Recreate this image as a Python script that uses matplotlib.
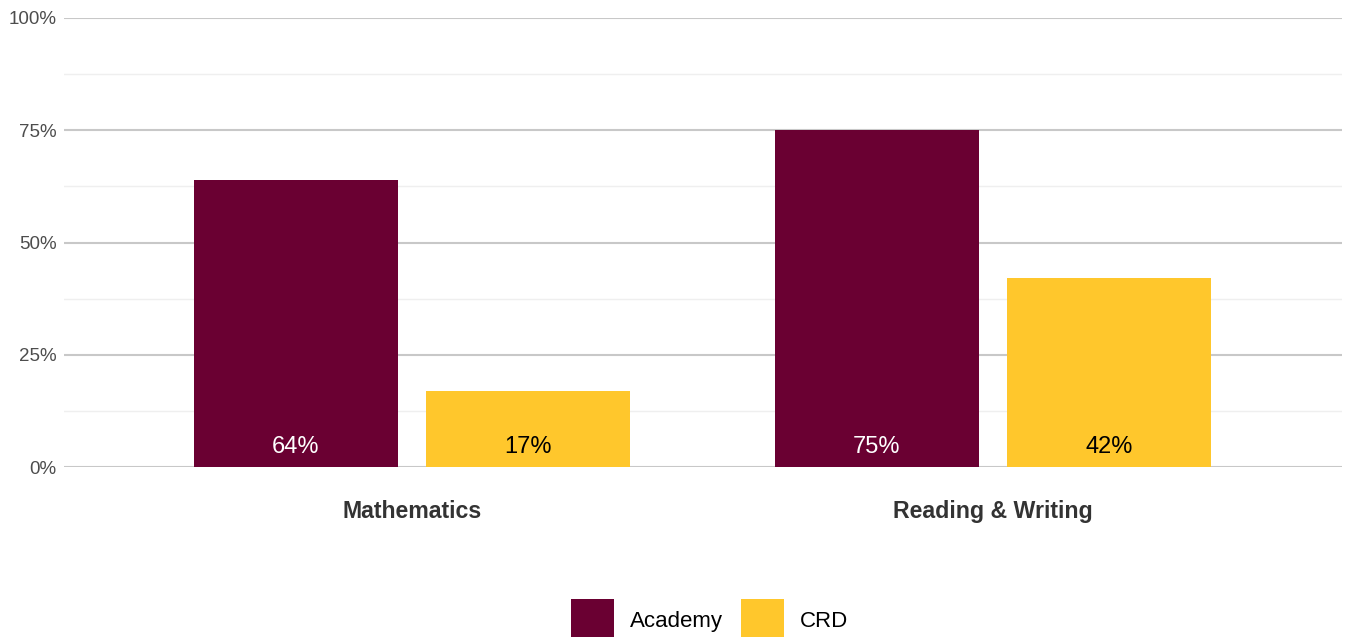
import numpy as np
import matplotlib.pyplot as plt
from matplotlib.patches import Patch

plt.rcParams['font.family'] = ['Liberation Sans', 'DejaVu Sans']

# data
subjects = ["Mathematics", "Reading & Writing"]
groups = ["Academy", "CRD"]
academy = [0.64, 0.75]
crd = [0.17, 0.42]
colors = {"Academy": "#6A0032", "CRD": "#FFC72C"}
label_colors = {"Academy": "white", "CRD": "black"}

fig = plt.figure(figsize=(13.46, 6.37), dpi=100)
ax = fig.add_axes([63.5 / 1346, 1 - 467 / 637, 1278 / 1346, 449 / 637])

x = np.arange(len(subjects))
width = 0.351
offsets = {"Academy": -0.2, "CRD": 0.2}
values = {"Academy": academy, "CRD": crd}

for g in groups:
    ax.bar(x + offsets[g], values[g], width=width, color=colors[g], zorder=3)
    for xi, v in zip(x, values[g]):
        ax.text(xi + offsets[g], 0.045, f"{round(v * 100):.0f}%", ha="center", va="center",
                fontsize=17, color=label_colors[g], zorder=4)

ax.set_xlim(-0.6, len(subjects) - 0.4)
ax.set_ylim(0, 1)
ax.set_yticks([0, 0.25, 0.5, 0.75, 1.0])
ax.set_yticklabels(["0%", "25%", "50%", "75%", "100%"])
ax.set_yticks([0.125, 0.375, 0.625, 0.875], minor=True)
ax.set_xticks(x)
ax.set_xticklabels(subjects, fontsize=16.7, fontweight="bold", color="#333333")

ax.grid(axis="y", which="major", color="#C8C8C8", linewidth=1.5, zorder=0)
ax.grid(axis="y", which="minor", color="#EFEFEF", linewidth=1.0, zorder=0)
ax.tick_params(axis="both", which="both", length=0)
ax.tick_params(axis="y", labelsize=13.5, labelcolor="#4D4D4D", pad=5)
ax.tick_params(axis="x", pad=24)
for s in ax.spines.values():
    s.set_visible(False)

handles = [Patch(facecolor=colors[g], edgecolor="none", label=g) for g in groups]
fig.legend(handles=handles, loc="upper center", bbox_to_anchor=(0.527, 1 - 579 / 637),
           ncol=2, frameon=False, fontsize=16, handlelength=1.95, handleheight=2.6,
           handletextpad=0.7, columnspacing=0.8)

fig.savefig("out.png", dpi=100)
